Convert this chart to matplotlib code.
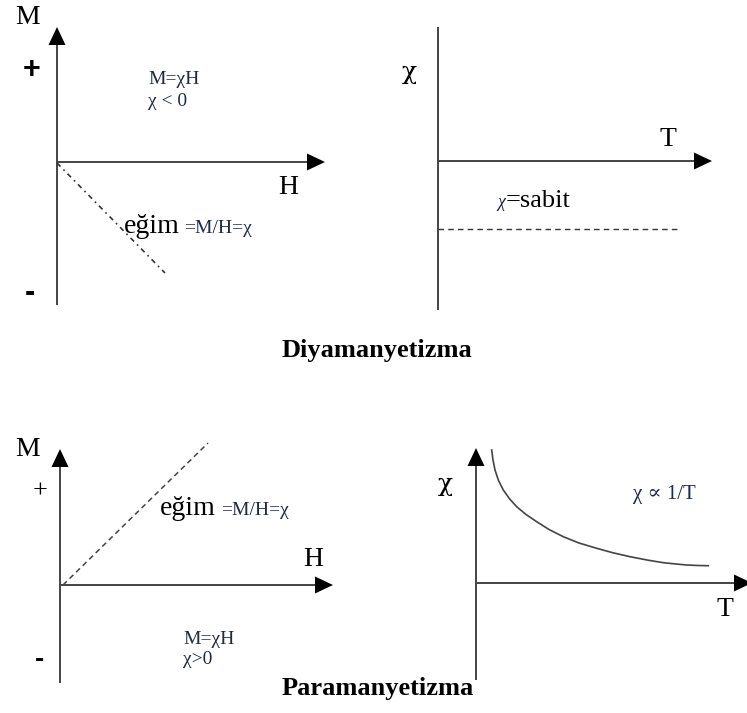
import numpy as np
import matplotlib.pyplot as plt
from matplotlib.patches import Polygon

# Diyagram piksel koordinatlarinda cizilir (x sagdan, y asagi)
W, H = 747, 713

# eksenler: (baslangic, uc) ; ok_var -> uc noktasinda dolu ok
eksenler = [
    ((57, 305), (57, 27), True),     # sol ust M
    ((57, 162), (325, 162), True),   # sol ust H
    ((438, 310), (438, 27), False),  # sag ust chi
    ((438, 161), (712, 161), True),  # sag ust T
    ((60, 683), (60, 449), True),    # sol alt M
    ((60, 585), (333, 585), True),   # sol alt H
    ((476, 680), (476, 448), True),  # sag alt chi
    ((476, 583), (752, 583), True),  # sag alt T
]
ok_boy = 18
ok_yari_genislik = 8.5

# kesikli cizgiler
dia_egim_x = [57, 165]
dia_egim_y = [163, 273]
dia_sabit_x = [438, 680]
dia_sabit_y = [229, 229]
para_egim_x = [63, 208]
para_egim_y = [585, 443]

# chi ~ 1/T egrisi (resimden okunan noktalar)
para_T_x = [491.7, 493.0, 495.0, 498.5, 503.3, 509.5, 516.7, 526.0, 536.7, 549.0,
            563.3, 579.0, 596.7, 613.0, 630.0, 647.0, 663.3, 676.0, 686.7, 698.0, 708.3]
para_T_y = [450.0, 460.0, 470.0, 480.5, 490.0, 498.8, 506.7, 514.5, 521.7, 529.5,
            536.7, 543.0, 548.3, 552.8, 556.7, 560.0, 562.7, 564.0, 565.0, 565.5, 565.7]

eksen_renk = '#444444'
formul_renk = '#1f2a44'
serif = ['Liberation Serif', 'DejaVu Serif']
chi_font = ['DejaVu Serif']

fig = plt.figure(figsize=(W / 100, H / 100), dpi=100)
ax = fig.add_axes([0, 0, 1, 1])
ax.set_xlim(0, W)
ax.set_ylim(H, 0)
ax.axis('off')

for (x0, y0), (x1, y1), ok in eksenler:
    if ok:
        d = np.array([x1 - x0, y1 - y0], dtype=float)
        d /= np.hypot(*d)
        n = np.array([-d[1], d[0]])
        taban = np.array([x1, y1]) - d * ok_boy
        ax.plot([x0, taban[0]], [y0, taban[1]], color=eksen_renk, lw=1.4,
                solid_capstyle='butt')
        ucgen = [[x1, y1], taban + n * ok_yari_genislik, taban - n * ok_yari_genislik]
        ax.add_patch(Polygon(ucgen, closed=True, color='black', lw=0))
    else:
        ax.plot([x0, x1], [y0, y1], color=eksen_renk, lw=1.4, solid_capstyle='butt')

ax.plot(dia_egim_x, dia_egim_y, color='#333333', lw=1.2, linestyle=(0, (3, 2.5, 1, 2.5)))
ax.plot(dia_sabit_x, dia_sabit_y, color='#333333', lw=1.0, linestyle=(0, (4, 3)))
ax.plot(para_egim_x, para_egim_y, color='#444444', lw=1.1, linestyle=(0, (3.5, 2.5)))
ax.plot(para_T_x, para_T_y, color='#444444', lw=1.2)

# sol ust: diyamanyetizma M-H
ax.text(28, 18, 'M', fontsize=20, family=serif, ha='center', va='center')
ax.text(32, 70, '+', fontsize=22, family='Liberation Sans', weight='bold', ha='center', va='center')
ax.text(30, 293, '-', fontsize=22, family='Liberation Sans', weight='bold', ha='center', va='center')
ax.text(288, 187, 'H', fontsize=20, family=serif, ha='center', va='center')
ax.text(148, 79, 'M=χH', fontsize=14, family=serif, color=formul_renk, ha='left', va='center')
ax.text(148, 102, 'χ < 0', fontsize=14, family=serif, color=formul_renk, ha='left', va='center')
ax.text(124, 233, 'eğim', fontsize=20, family=serif, ha='left', va='baseline')
ax.text(184, 233, '=M/H=χ', fontsize=14, family=serif, color=formul_renk, ha='left', va='baseline')

# sag ust: diyamanyetizma chi-T
ax.text(409, 72, 'χ', fontsize=18, family=chi_font, ha='center', va='center')
ax.text(668, 140, 'T', fontsize=20, family=serif, ha='center', va='center')
ax.text(497, 207, 'χ', fontsize=13, family=serif, style='italic', color=formul_renk,
        ha='left', va='baseline')
ax.text(506, 207, '=sabit', fontsize=19, family=serif, ha='left', va='baseline')

ax.text(377, 350, 'Diyamanyetizma', fontsize=19, family=serif, weight='bold',
        ha='center', va='center')

# sol alt: paramanyetizma M-H
ax.text(28, 450, 'M', fontsize=20, family=serif, ha='center', va='center')
ax.text(40, 492, '+', fontsize=19, family=serif, ha='center', va='center')
ax.text(40, 660, '-', fontsize=20, family='Liberation Sans', weight='bold', ha='center', va='center')
ax.text(313, 560, 'H', fontsize=20, family=serif, ha='center', va='center')
ax.text(160, 515, 'eğim', fontsize=20, family=serif, ha='left', va='baseline')
ax.text(221, 515, '=M/H=χ', fontsize=14, family=serif, color=formul_renk, ha='left', va='baseline')
ax.text(183, 640, 'M=χH', fontsize=14, family=serif, color=formul_renk, ha='left', va='center')
ax.text(183, 660, 'χ>0', fontsize=14, family=serif, color=formul_renk, ha='left', va='center')

# sag alt: paramanyetizma chi-T
ax.text(445, 485, 'χ', fontsize=18, family=chi_font, ha='center', va='center')
ax.text(633, 495, 'χ ∝ 1/T', fontsize=15, family=serif, color=formul_renk, ha='left', va='center')
ax.text(725, 610, 'T', fontsize=20, family=serif, ha='center', va='center')

ax.text(378, 688, 'Paramanyetizma', fontsize=19, family=serif, weight='bold',
        ha='center', va='center')

fig.savefig('out.png', dpi=100)
